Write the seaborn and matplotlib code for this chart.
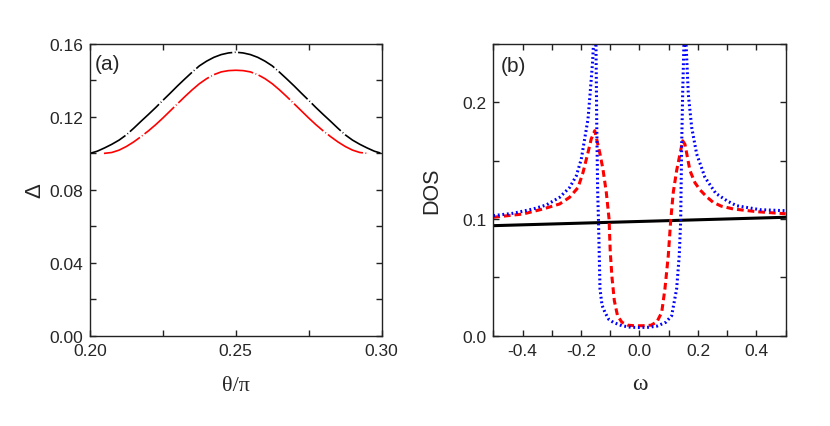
import numpy as np
import pandas as pd
import matplotlib
matplotlib.use("Agg")
import matplotlib.pyplot as plt
import seaborn as sns
from matplotlib.ticker import MultipleLocator, FormatStrFormatter

# ---- panel (a) data ----
theta_black = [0.2000, 0.2025, 0.2050, 0.2075, 0.2100, 0.2125, 0.2150, 0.2175, 0.2200, 0.2225,
               0.2250, 0.2275, 0.2300, 0.2325, 0.2350, 0.2375, 0.2400, 0.2425, 0.2450, 0.2475,
               0.2500, 0.2525, 0.2550, 0.2575, 0.2600, 0.2625, 0.2650, 0.2675, 0.2700, 0.2725,
               0.2750, 0.2775, 0.2800, 0.2825, 0.2850, 0.2875, 0.2900, 0.2925, 0.2950, 0.2975,
               0.3000]
delta_black = [0.1000, 0.1012, 0.1030, 0.1050, 0.1073, 0.1102, 0.1138, 0.1176, 0.1213, 0.1251,
               0.1291, 0.1330, 0.1370, 0.1408, 0.1445, 0.1480, 0.1506, 0.1527, 0.1542, 0.1551,
               0.1555, 0.1551, 0.1542, 0.1527, 0.1506, 0.1480, 0.1445, 0.1408, 0.1370, 0.1330,
               0.1291, 0.1251, 0.1213, 0.1176, 0.1138, 0.1102, 0.1073, 0.1050, 0.1030, 0.1012,
               0.1000]
theta_red = [0.2048, 0.2075, 0.2100, 0.2125, 0.2150, 0.2175, 0.2200, 0.2225, 0.2250, 0.2275,
             0.2300, 0.2325, 0.2350, 0.2375, 0.2400, 0.2425, 0.2450, 0.2475, 0.2500, 0.2525,
             0.2550, 0.2575, 0.2600, 0.2625, 0.2650, 0.2675, 0.2700, 0.2725, 0.2750, 0.2775,
             0.2800, 0.2825, 0.2850, 0.2875, 0.2900, 0.2925, 0.2952]
delta_red = [0.1000, 0.1005, 0.1018, 0.1038, 0.1063, 0.1092, 0.1123, 0.1157, 0.1194, 0.1233,
             0.1272, 0.1311, 0.1348, 0.1382, 0.1410, 0.1432, 0.1447, 0.1454, 0.1456, 0.1454,
             0.1447, 0.1432, 0.1410, 0.1382, 0.1348, 0.1311, 0.1272, 0.1233, 0.1194, 0.1157,
             0.1123, 0.1092, 0.1063, 0.1038, 0.1018, 0.1005, 0.1000]

# ---- panel (b) data ----
omega_black = [-0.5, 0.5]
dos_black = [0.0943, 0.1015]

omega_blue = [-0.500, -0.4326, -0.364, -0.319, -0.273, -0.239, -0.216, -0.199, -0.1875, -0.176,
              -0.169, -0.160, -0.1565, -0.1527, -0.1490, -0.146, -0.143, -0.140, -0.135, -0.128,
              -0.118, -0.105, -0.090, -0.060, -0.030, 0.0,
              0.030, 0.060, 0.090, 0.110, 0.127, 0.136, 0.1409, 0.1443, 0.1477, 0.1525,
              0.1555, 0.1585, 0.167, 0.1785, 0.1956, 0.224, 0.261, 0.300, 0.332, 0.412, 0.500]
dos_blue = [0.1029, 0.1049, 0.1086, 0.1120, 0.1186, 0.1270, 0.1370, 0.1514, 0.1686, 0.1857,
            0.207, 0.2357, 0.255, 0.300, 0.255, 0.179, 0.124, 0.097, 0.040, 0.026,
            0.020, 0.0140, 0.0115, 0.0085, 0.0072, 0.0070,
            0.0072, 0.0082, 0.0115, 0.0171, 0.040, 0.0686, 0.0986, 0.164, 0.207, 0.255,
            0.300, 0.255, 0.207, 0.1786, 0.1557, 0.1357, 0.1220, 0.1155, 0.1114, 0.1080, 0.1071]

omega_red = [-0.500, -0.398, -0.330, -0.273, -0.239, -0.210, -0.193, -0.176, -0.165, -0.153,
             -0.136, -0.125, -0.1135, -0.104, -0.100, -0.094, -0.086, -0.075, -0.060,
             -0.040, -0.020, 0.0, 0.020, 0.040, 0.060, 0.076, 0.087, 0.0985, 0.1067,
             0.1156, 0.127, 0.1385, 0.1477, 0.1556, 0.1727, 0.190, 0.207, 0.230, 0.252,
             0.280, 0.321, 0.401, 0.500]
dos_red = [0.1015, 0.1043, 0.1086, 0.1129, 0.1186, 0.1270, 0.1400, 0.1570, 0.1686, 0.1757,
           0.1570, 0.1429, 0.1229, 0.1000, 0.0720, 0.0500, 0.0300, 0.0170, 0.0115,
           0.0090, 0.0086, 0.0085, 0.0086, 0.0090, 0.0120, 0.020, 0.040, 0.0686, 0.0986,
           0.1229, 0.1414, 0.1557, 0.1670, 0.1640, 0.1414, 0.1310, 0.1250, 0.1190, 0.1143,
           0.1110, 0.1086, 0.1063, 0.1045]

sns.set_theme(style="ticks")
plt.rcParams['font.family'] = ['Liberation Sans', 'DejaVu Sans']

fig = plt.figure(figsize=(8.3, 4.27), dpi=100)
ax1 = fig.add_axes([0.1084, 0.2115, 0.3514, 0.6831])
ax2 = fig.add_axes([0.5943, 0.2115, 0.3523, 0.6831])

dashdot = (0, (24, 1.5, 0.5, 1.5))
sns.lineplot(x=theta_black, y=delta_black, ax=ax1, color='black', lw=1.2, linestyle=dashdot)
sns.lineplot(x=theta_red, y=delta_red, ax=ax1, color='red', lw=1.2, linestyle=dashdot)

sns.lineplot(x=omega_black, y=dos_black, ax=ax2, color='black', lw=2.2)
sns.lineplot(x=omega_red, y=dos_red, ax=ax2, color='red', lw=2.2,
             linestyle=(0, (2.2, 1.3)), sort=False)
sns.lineplot(x=omega_blue, y=dos_blue, ax=ax2, color='blue', lw=2.2,
             linestyle=(0, (0.6, 0.9)), sort=False)

ax1.set_xlim(0.2, 0.3)
ax1.set_ylim(0.0, 0.16)
ax1.xaxis.set_major_locator(MultipleLocator(0.05))
ax1.xaxis.set_minor_locator(MultipleLocator(0.025))
ax1.yaxis.set_major_locator(MultipleLocator(0.04))
ax1.yaxis.set_minor_locator(MultipleLocator(0.02))
ax1.xaxis.set_major_formatter(FormatStrFormatter('%.2f'))
ax1.yaxis.set_major_formatter(FormatStrFormatter('%.2f'))

ax2.set_xlim(-0.5, 0.5)
ax2.set_ylim(0.0, 0.25)
ax2.xaxis.set_major_locator(MultipleLocator(0.2))
ax2.xaxis.set_minor_locator(MultipleLocator(0.1))
ax2.yaxis.set_major_locator(MultipleLocator(0.1))
ax2.yaxis.set_minor_locator(MultipleLocator(0.05))
ax2.xaxis.set_major_formatter(FormatStrFormatter('%.1f'))
ax2.yaxis.set_major_formatter(FormatStrFormatter('%.1f'))

for ax in (ax1, ax2):
    for s in ax.spines.values():
        s.set_visible(True)
        s.set_linewidth(1.0)
        s.set_color('#222222')
    ax.tick_params(which='both', direction='in', top=True, right=True,
                   labelsize=12.5, width=1.0, color='#222222', pad=5)
    ax.tick_params(which='major', length=4)
    ax.tick_params(which='minor', length=4)

ax1.set_xlabel('θ/π', family=['Liberation Serif', 'DejaVu Serif'], fontsize=16, labelpad=13)
ax1.set_ylabel('Δ', fontsize=16, labelpad=3)
ax2.set_xlabel('ω', family=['Liberation Serif', 'DejaVu Serif'], fontsize=17, labelpad=11)
ax2.set_ylabel('DOS', fontsize=15.5, labelpad=14)

ax1.text(0.015, 0.965, '(a)', transform=ax1.transAxes, fontsize=15, va='top', ha='left')
ax2.text(0.025, 0.96, '(b)', transform=ax2.transAxes, fontsize=15, va='top', ha='left')

fig.savefig('out.png', dpi=100)
